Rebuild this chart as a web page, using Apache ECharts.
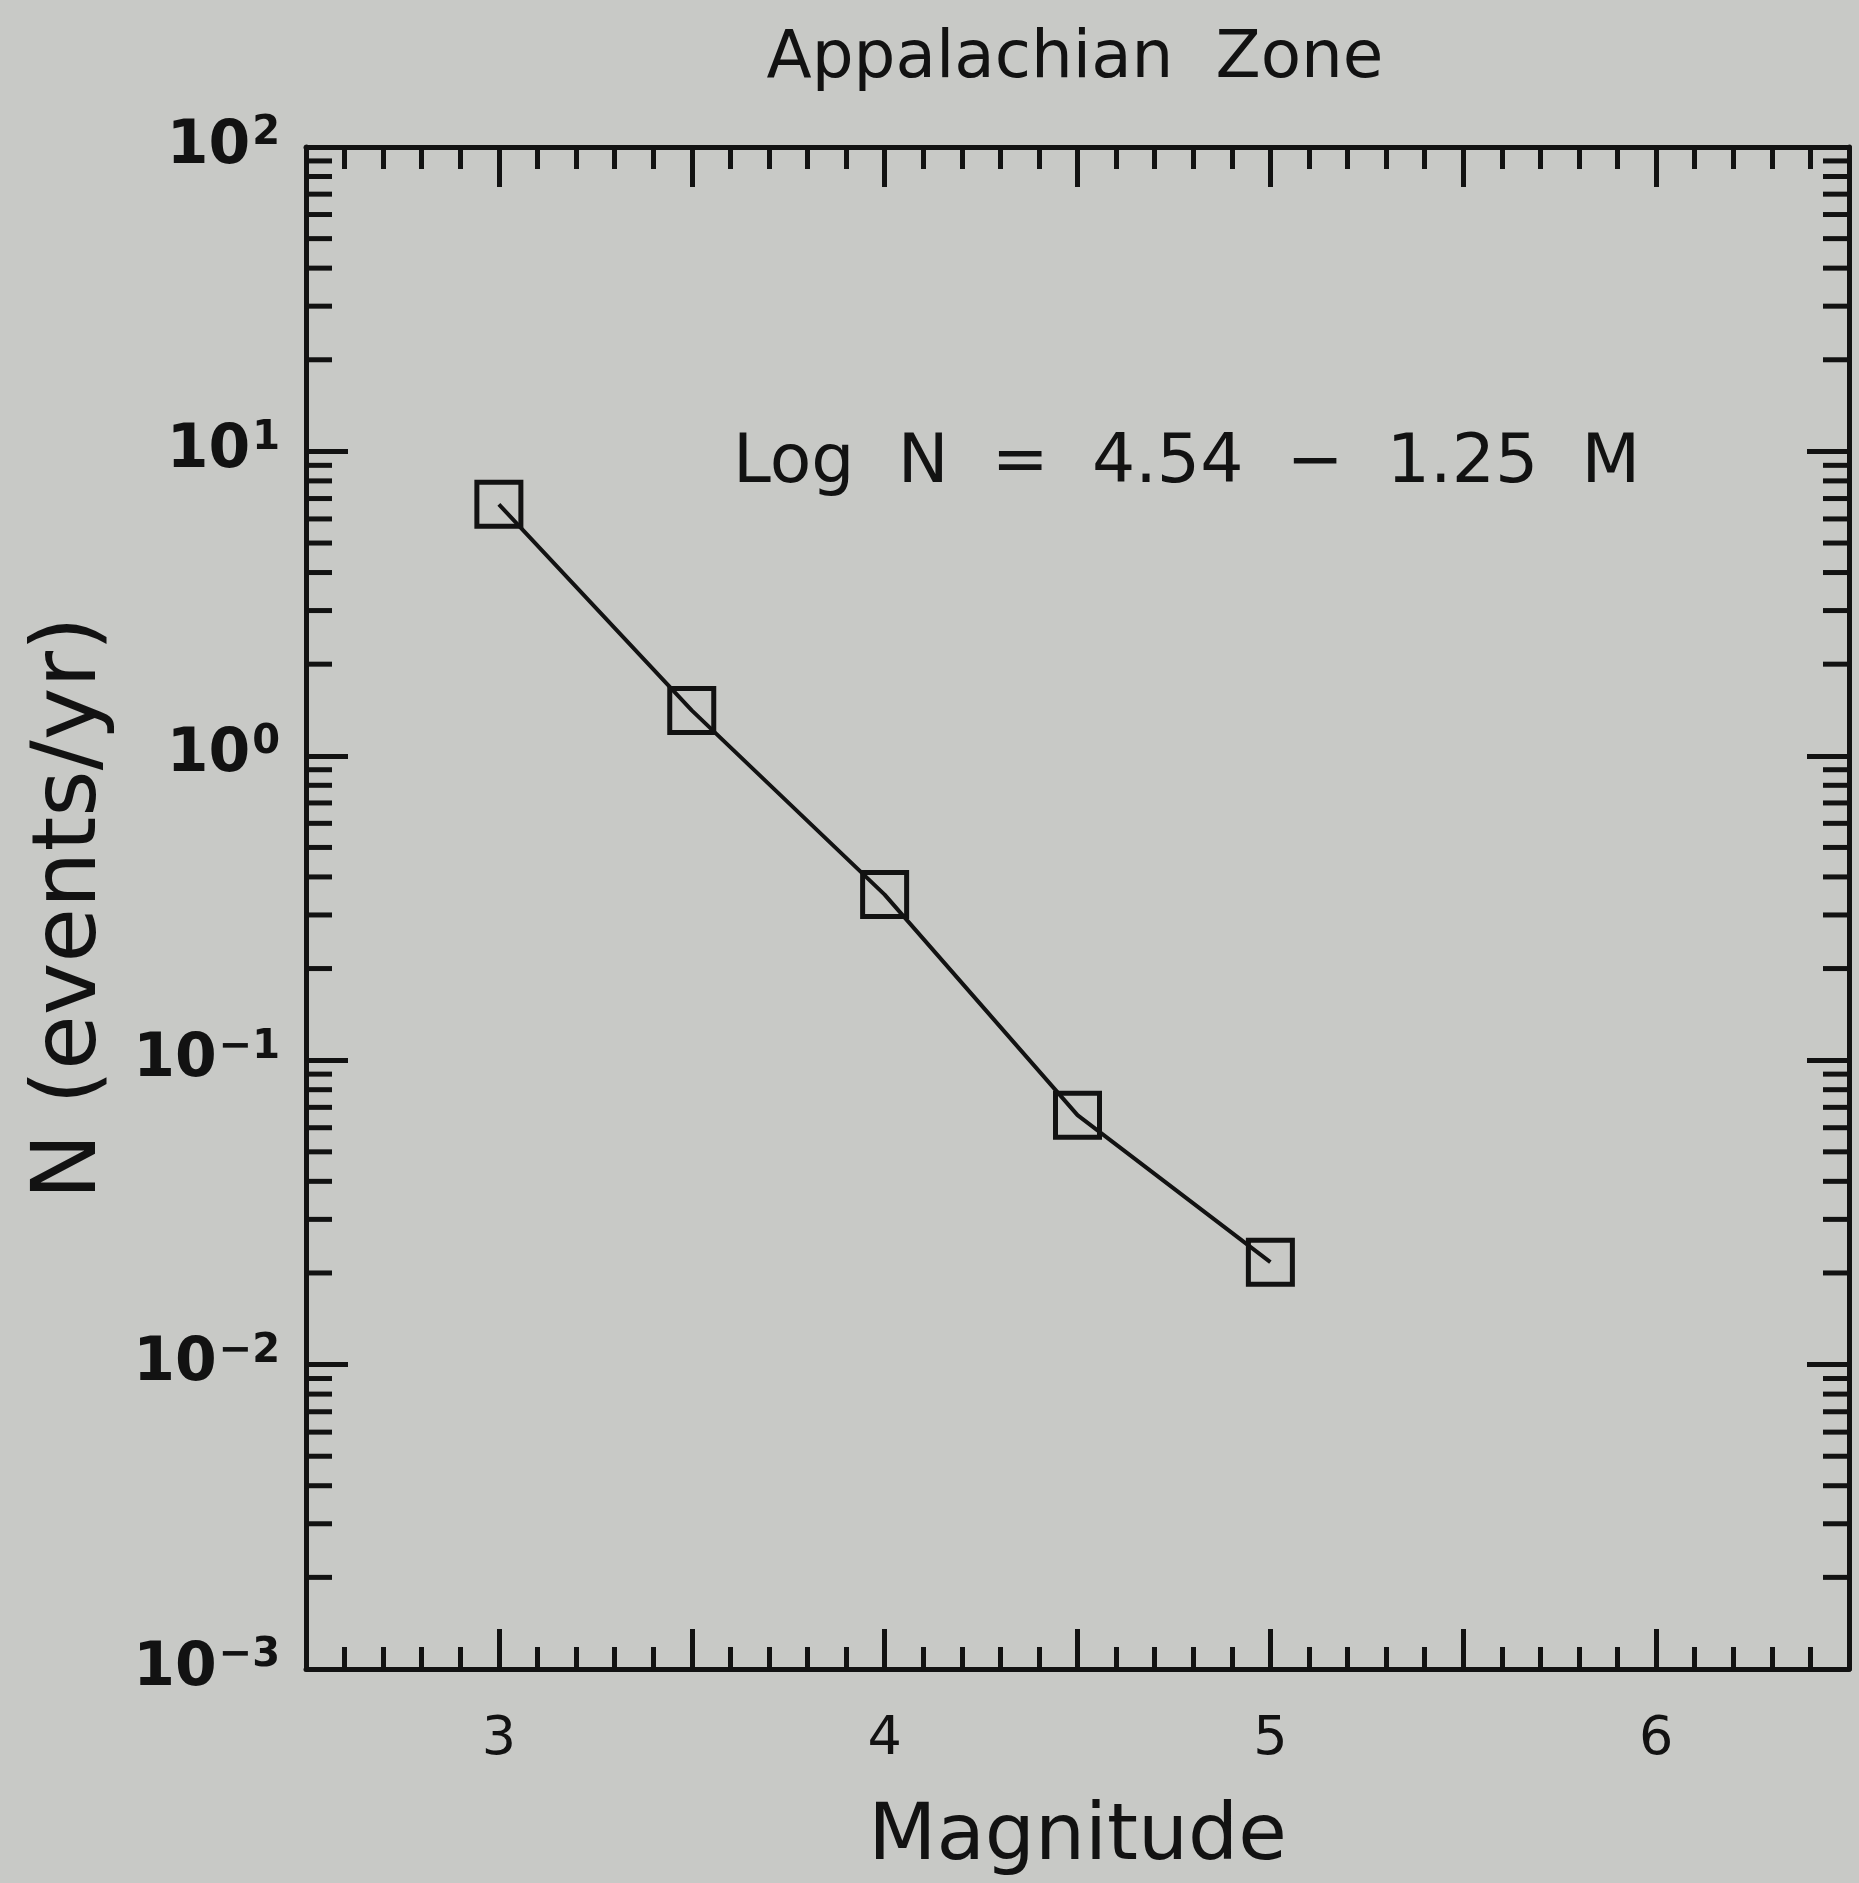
<!DOCTYPE html>
<html>
<head>
<meta charset="utf-8">
<script src="https://cdn.jsdelivr.net/npm/echarts@6/dist/echarts.min.js"></script>
<style>
  html, body { margin: 0; padding: 0; background: #c8c9c6; }
  #chart { width: 1859px; height: 1883px; }
</style>
</head>
<body>
<div id="chart"></div>
<script>
// magnitude bins and annual rates
const magnitudes = [3, 3.5, 4, 4.5, 5];
const rates = [6.7, 1.41, 0.35, 0.066, 0.0217];

const xLabels = [3, 4, 5, 6];
const decades = [0.001, 0.01, 0.1, 1, 10];
const minorMultipliers = [2, 3, 4, 5, 6, 7, 8, 9];

const titleText = "Appalachian  Zone";
const fitText = "Log  N  =  4.54  −  1.25  M";

const ink = "#121212";
const bg = "#c8c9c6";

// log minor ticks (2..9 in each decade)
let minorY = [];
decades.forEach(d => {
  minorMultipliers.forEach(m => minorY.push([2.5, +(d * m).toPrecision(3)]));
});

function expLabel(v) {
  let e = Math.round(Math.log10(v));
  let s = e < 0 ? "−" + Math.abs(e) : "" + e;
  return "{b|10}{s|" + s + "}";
}

const chart = echarts.init(document.getElementById("chart"), null, { renderer: "canvas" });

const xCommon = {
  type: "value",
  min: 2.5,
  max: 6.5,
  interval: 0.5,
  axisLine: { show: true, onZero: false, lineStyle: { color: ink, width: 5 } },
  axisTick: { show: true, inside: true, length: 40, lineStyle: { color: ink, width: 5 } },
  minorTick: { show: true, splitNumber: 5, length: 22, lineStyle: { color: ink, width: 5 } },
  splitLine: { show: false },
  minorSplitLine: { show: false }
};

const yCommon = {
  type: "log",
  logBase: 10,
  min: 0.001,
  max: 100,
  axisLine: { show: true, onZero: false, lineStyle: { color: ink, width: 5 } },
  axisTick: { show: true, inside: true, length: 42, lineStyle: { color: ink, width: 5 } },
  splitLine: { show: false }
};

chart.setOption({
  backgroundColor: bg,
  animation: false,
  grid: { left: 306, right: 10, top: 147, bottom: 214 },
  graphic: [
    {
      type: "text",
      x: 1075, y: 60,
      style: { text: titleText, font: "66px 'DejaVu Sans'", fill: ink, align: "center", verticalAlign: "middle" }
    },
    {
      type: "text",
      x: 733, y: 464,
      style: { text: fitText, font: "68px 'DejaVu Sans'", fill: ink, align: "left", verticalAlign: "middle" }
    }
  ],
  xAxis: [
    Object.assign({}, xCommon, {
      position: "bottom",
      name: "Magnitude",
      nameLocation: "middle",
      nameGap: 130,
      nameTextStyle: { fontFamily: "DejaVu Sans", fontSize: 79, color: ink },
      axisLabel: {
        show: true,
        margin: 44,
        fontFamily: "DejaVu Sans",
        fontSize: 54,
        color: ink,
        formatter: v => (xLabels.indexOf(v) >= 0 ? String(v) : "")
      }
    }),
    Object.assign({}, xCommon, { position: "top", axisLabel: { show: false } })
  ],
  yAxis: [
    Object.assign({}, yCommon, {
      position: "left",
      name: "N (events/yr)",
      nameLocation: "middle",
      nameGap: 190,
      nameRotate: 90,
      nameTextStyle: { fontFamily: "DejaVu Sans", fontSize: 89, color: ink },
      axisLabel: {
        show: true,
        margin: 26,
        formatter: expLabel,
        rich: {
          b: { fontFamily: "DejaVu Sans", fontWeight: "bold", fontSize: 60, lineHeight: 66, color: ink },
          s: { fontFamily: "DejaVu Sans", fontWeight: "bold", fontSize: 40, lineHeight: 40, verticalAlign: "top", color: ink, padding: [0, 0, 0, 2] }
        }
      }
    }),
    Object.assign({}, yCommon, { position: "right", axisLabel: { show: false } })
  ],
  series: [
    {
      type: "line",
      data: magnitudes.map((m, i) => [m, rates[i]]),
      symbol: "rect",
      symbolSize: 44,
      lineStyle: { color: ink, width: 4 },
      itemStyle: { color: "rgba(0,0,0,0)", borderColor: ink, borderWidth: 5 },
      z: 5
    },
    {
      // minor log ticks on left and right frame
      type: "custom",
      data: minorY,
      clip: false,
      silent: true,
      renderItem: function(params, api) {
        let cs = params.coordSys;
        let p = api.coord([api.value(0), api.value(1)]);
        let len = 26;
        return {
          type: "group",
          children: [
            { type: "line", shape: { x1: cs.x, y1: p[1], x2: cs.x + len, y2: p[1] }, style: { stroke: ink, lineWidth: 5 } },
            { type: "line", shape: { x1: cs.x + cs.width, y1: p[1], x2: cs.x + cs.width - len, y2: p[1] }, style: { stroke: ink, lineWidth: 5 } }
          ]
        };
      }
    }
  ]
});
</script>
</body>
</html>
